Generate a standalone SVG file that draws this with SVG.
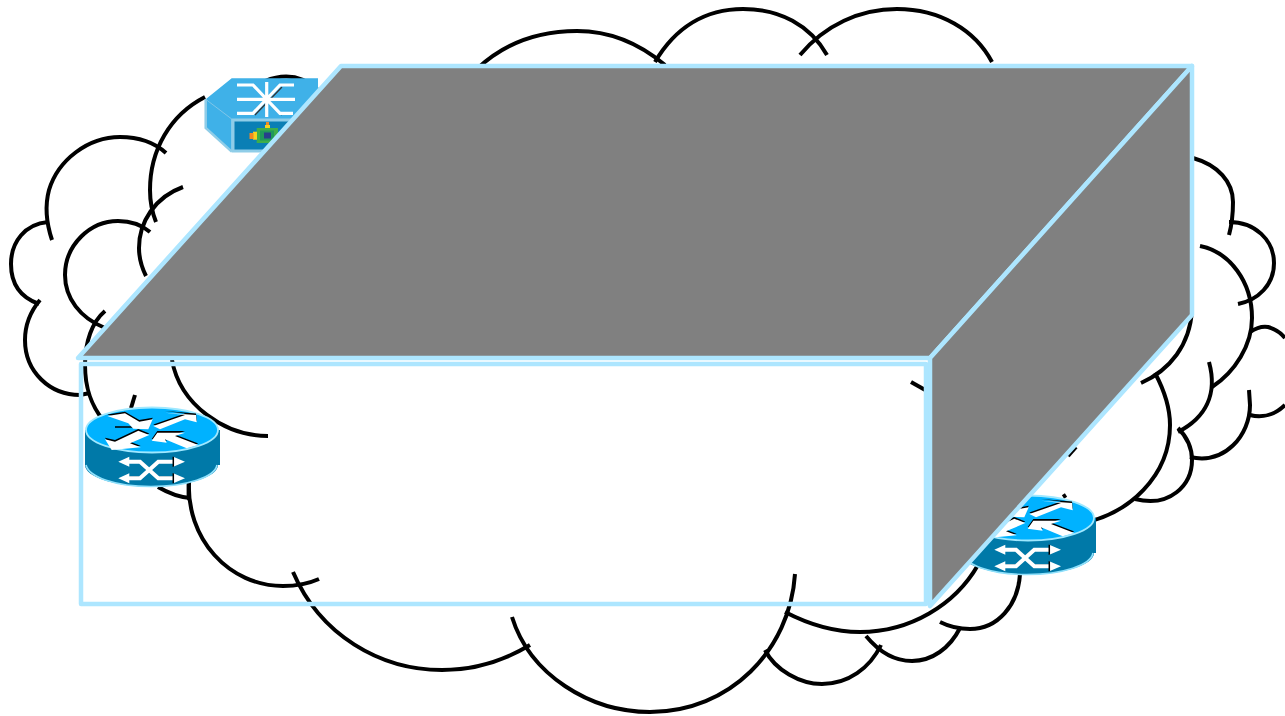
<svg xmlns="http://www.w3.org/2000/svg" width="1285" height="716" viewBox="0 0 1285 716">
<style>
.c{fill:none;stroke:#000;stroke-width:4}
.b{stroke:#ade6ff;stroke-width:4.500;stroke-linejoin:round}
.wl{fill:none;stroke:#fff;stroke-width:4}
.k{fill:none;stroke:#000;stroke-width:1.500}
.s{fill:none;stroke:#fff;stroke-width:3.200}
.sd{fill:none;stroke:#333;stroke-width:1.200}
</style>
<defs>
<g id="ups">
<path d="M22.300 9 40 6.300 54.300 14.700 67.700 12.300 63.300 22.300 48.300 21.700 43.300 16.300Z"/>
<path d="M68.300 19 100 8 80 5.700 111 8 111.700 15.300 100 12.300 75 22.300Z"/>
<path d="M20 32.300 26.700 43 55.700 40.300 45 36.300 64.300 28 53.300 23.700 30 34.700Z"/>
<path d="M66.700 33.700 72.300 25.700 100 25.700 90 29 113.300 38 101.700 41.300 80 32.300 81.700 35.700Z"/>
</g>
<g id="router">
<path d="M0 23V58C0 70 30 79.500 66 79.500S133 70 133 58H135V23Z" fill="#0079a8"/>
<path d="M1 58C4 70 30 79.500 66 79.500S130 70 132 58" fill="none" stroke="#8fe0fb" stroke-width="1.600"/>
<ellipse cx="67" cy="23" rx="66" ry="22.500" fill="#00b2ff" stroke="#9fe8ff" stroke-width="1.800"/>
<use href="#ups" y="-1.600" fill="#000"/>
<path d="M30 20H48M50 15H62" class="k"/>
<use href="#ups" fill="#fff"/>
<path d="M44 53.700H55L73.300 70.300H90" class="k"/>
<path d="M44 70.300H55L73.300 53.700H90" class="k"/>
<path d="M44 54.700H55L73.300 71.300H90" class="wl"/>
<path d="M44 71.300H55L73.300 54.700H90" class="wl"/>
<path d="M33.300 54.700 44.300 49.700V59.700ZM33.300 71.300 44.300 66.300V76.300ZM100 54.700 88.300 49.700V59.700ZM100 71.300 88.300 66.300V76.300Z" fill="#fff"/>
<path d="M88.300 49.700V59.700M88.300 66.300V76.300" stroke="#000" stroke-width="1.500"/>
</g>
</defs>

<g id="connectors">
<path class="c" d="M52 240C46 222 45 205 49 190C58 160 88 137 120 137C140 137 155 143 166 153"/>
<path class="c" d="M48 222C25 224 11 242 11 264C11 285 22 298 39 304"/>
<path class="c" d="M40 300C30 312 25 325 25 340C25 372 50 395 80 395L90 393"/>
<path class="c" d="M205 97C170 115 150 150 150 190C150 200 152 212 156 222"/>
<path class="c" d="M265 81C285 73 303 76 318 90"/>
<path class="c" d="M183 187C155 197 139 222 139 248C139 258 142 268 146 276"/>
<path class="c" d="M105 328C80 318 65 298 65 275C65 245 90 221 118 221C130 221 142 225 150 232"/>
<path class="c" d="M105 311C92 322 85 342 85 365C85 390 92 406 103 420"/>
<path class="c" d="M172 360C180 405 225 436 268 436"/>
<path class="c" d="M135 395 131 408"/>
<path class="c" d="M158 487C170 494 178 497 190 498M189 480C189 486 188 492 189 500"/>
<path class="c" d="M189 478C185 540 230 586 283 586C297 586 310 583 319 579"/>
<path class="c" d="M293 572C320 635 380 670 442 670C475 670 505 660 530 645"/>
<path class="c" d="M512 617C530 675 590 712 650 712C730 712 790 650 795 574"/>
<path class="c" d="M765 650C775 670 800 684 822 684C848 684 870 668 881 645"/>
<path class="c" d="M785 612C810 625 835 632 860 632C910 632 955 605 978 565"/>
<path class="c" d="M866 636C880 653 895 661 912 661C932 661 950 648 960 628"/>
<path class="c" d="M940 622C950 627 960 629 970 629C998 629 1018 605 1020 574"/>
<path class="c" d="M1078 524C1130 515 1170 475 1170 425C1170 405 1163 388 1155 373"/>
<path class="c" d="M1141 383C1170 370 1190 345 1192 310"/>
<path class="c" d="M1209 362C1218 395 1205 418 1178 432"/>
<path class="c" d="M1135 499C1170 508 1192 485 1192 460C1192 447 1186 436 1178 428"/>
<path class="c" d="M1190 457C1225 465 1250 435 1250 405L1249 390"/>
<path class="c" d="M1200 246C1230 252 1252 282 1252 318C1252 345 1235 372 1212 387"/>
<path class="c" d="M1250 332C1256 328 1262 326 1268 327C1275 329 1281 333 1285 338M1250 415C1262 418 1275 415 1285 405"/>
<path class="c" d="M1229 222C1255 222 1274 240 1274 263C1274 285 1258 300 1238 304"/>
<path class="c" d="M1193 158C1218 165 1233 182 1233 202C1233 214 1232 224 1229 235"/>
<path class="c" d="M478 68C505 43 540 31 577 31C610 31 640 44 665 65"/>
<path class="c" d="M655 62C675 28 705 9 743 9C780 9 810 25 827 55"/>
<path class="c" d="M800 55C825 25 860 9 897 9C940 9 975 30 992 62"/>
<path class="c" d="M911 382 927 391"/>
<path class="c" d="M1068 456 1076 447" stroke-width="2"/>
<path class="c" d="M1063 497 1066 495"/>
</g>

<g id="switch">
<path d="M231.700 78.300H318V119H231.700V151.700L205.700 128V99.300Z" fill="#3fb1e8"/>
<path d="M205.700 99.300V128L231.700 151.700" fill="none" stroke="#8fcde8" stroke-width="2.500"/>
<path d="M205.700 99.300 231.700 119" fill="none" stroke="#7fc6e8" stroke-width="1"/>
<rect x="233" y="120" width="85" height="31" fill="#0a7fb5" stroke="#8fcde8" stroke-width="3"/>
<path d="M254 86 281 114M254 114 281 86" class="sd" transform="translate(1 1)"/>
<path d="M237 85H253L280 113.300H293M237 113.300H253L280 85H294M237 99.300H295M266.700 82V117" class="s"/>
<rect x="256.700" y="128" width="21.300" height="15" fill="#3fae49"/>
<rect x="260" y="130.500" width="14" height="10" fill="#1f9a5a"/>
<rect x="264" y="132.500" width="7" height="6" fill="#27408b"/>
<rect x="253" y="131.700" width="4" height="8" fill="#f7d21e"/>
<rect x="249.500" y="133" width="4" height="6" fill="#f08a24"/>
<rect x="265" y="125" width="5" height="3" fill="#f7d21e"/>
<rect x="266" y="122" width="3" height="3" fill="#f08a24"/>
</g>

<g id="router-left"><use href="#router" x="85" y="407"/></g>
<g id="router-right"><use href="#router" x="961" y="495"/></g>

<g id="box">
<path class="b" d="M78 358 341 66H1192L930 358Z" fill="#808080"/>
<path class="b" d="M930 358 1192 66V315L930 606Z" fill="#808080"/>
<rect class="b" x="81" y="364" width="845" height="240" fill="none"/>
</g>
</svg>
